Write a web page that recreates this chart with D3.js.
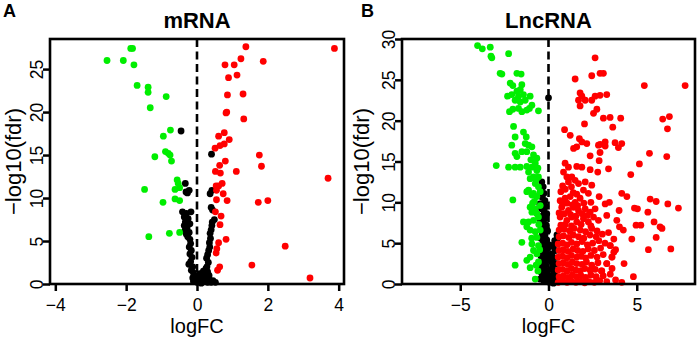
<!DOCTYPE html>
<html>
<head>
<meta charset="utf-8">
<script src="https://cdn.jsdelivr.net/npm/d3@7"></script>
<style>
  body { margin: 0; background: #fff; }
  text { font-family: "Liberation Sans", Arial, Helvetica, sans-serif; }
</style>
</head>
<body>
<svg id="chart"></svg>
<script>
const width = 699;
const height = 339;

// ---- panel A : mRNA ----
const mrnaXTicks = [-4, -2, 0, 2, 4];
const mrnaYTicks = [0, 5, 10, 15, 20, 25];

const mrnaDown = [
  [-1.87, 27.4], [-1.82, 27.4], [-2.54, 26.0], [-2.08, 26.0], [-1.78, 25.5],
  [-1.69, 23.1], [-1.38, 22.9], [-1.38, 22.3], [-0.87, 21.8], [-1.32, 20.5],
  [-0.75, 17.9], [-0.95, 17.2], [-0.89, 15.4], [-0.81, 15.2], [-0.76, 15.0],
  [-1.19, 14.8], [-0.72, 14.3], [-0.56, 12.1], [-0.53, 11.7], [-0.62, 11.0],
  [-0.49, 11.2], [-1.48, 11.0], [-0.62, 9.9], [-0.49, 9.7], [-0.96, 9.5],
  [-0.78, 5.9], [-0.49, 6.0], [-1.36, 5.5]
];

const mrnaUp = [
  [1.38, 27.6], [3.88, 27.4], [1.24, 26.2], [1.87, 25.9], [0.79, 25.5], [1.05, 25.5],
  [0.89, 24.0], [1.13, 24.3], [0.86, 22.0], [1.30, 22.1], [0.82, 19.9], [0.84, 20.0],
  [1.32, 19.2], [0.61, 17.2], [0.77, 17.6], [0.91, 16.8], [0.77, 16.3], [0.51, 15.8],
  [0.65, 16.1], [1.76, 15.0], [1.82, 13.7], [0.80, 14.3], [0.64, 13.8], [0.52, 13.1],
  [0.66, 12.9], [1.11, 13.1], [3.70, 12.3], [0.71, 11.7], [0.54, 11.4], [0.61, 11.4],
  [0.55, 10.9], [0.74, 10.5], [0.55, 9.8], [0.85, 9.7], [1.73, 9.5], [2.00, 9.7],
  [0.52, 8.4], [0.68, 7.9], [0.65, 6.9], [0.82, 5.2], [0.61, 4.8], [0.56, 4.1],
  [2.49, 4.4], [0.54, 3.6], [1.55, 2.2], [0.64, 2.0], [0.58, 1.6], [3.19, 0.7]
];

const mrnaNot = [
  [-0.45, 17.8], [0.41, 15.1], [-0.33, 11.7], [-0.31, 10.7], [-0.27, 10.6], [-0.22, 10.9],
  [0.37, 10.5], [0.42, 10.9], [0.44, 8.6], [0.49, 7.5], [0.40, 8.9],
  [-0.41, 8.4], [-0.17, 8.4], [-0.30, 8.2], [-0.36, 7.8], [-0.25, 7.6], [-0.33, 7.2],
  [-0.20, 7.0], [-0.36, 6.8], [-0.28, 6.5], [-0.34, 6.2], [-0.22, 6.0], [-0.30, 5.8],
  [-0.26, 5.5], [-0.20, 5.2], [-0.18, 4.7], [-0.22, 4.3], [-0.16, 3.9], [-0.20, 3.5],
  [-0.14, 3.1], [-0.18, 2.6], [-0.23, 2.3], [-0.12, 2.0], [-0.16, 1.6], [-0.10, 1.3],
  [-0.08, 1.0], [-0.12, 0.7], [-0.05, 0.5], [-0.10, 0.3], [0.00, 0.2], [0.05, 0.6],
  [0.10, 0.4], [0.15, 0.9], [0.20, 0.3], [0.25, 0.6], [0.30, 0.2], [0.35, 0.5],
  [0.40, 0.2], [0.45, 0.4], [0.52, 0.2], [0.08, 1.2], [0.18, 1.5], [0.12, 0.1],
  [-0.02, 0.9], [0.30, 1.4], [0.28, 2.0], [0.32, 2.5], [0.27, 3.0], [0.30, 3.4],
  [0.33, 3.9], [0.36, 4.3], [0.35, 4.8], [0.38, 5.3], [0.37, 5.9], [0.40, 6.3],
  [0.42, 6.8], [0.43, 7.2], [0.25, 1.8], [0.22, 1.2], [0.34, 1.0]
];

// ---- panel B : LncRNA ----
const lncXTicks = [-5, 0, 5];
const lncYTicks = [0, 5, 10, 15, 20, 25, 30];

const lncDown = [
  [-4.02, 29.2], [-3.75, 28.8], [-3.30, 29.0], [-3.26, 27.9], [-3.21, 27.7], [-2.26, 28.2],
  [-2.74, 25.8], [-2.64, 25.7], [-1.79, 25.8], [-1.55, 25.7], [-2.17, 24.6], [-2.02, 24.3],
  [-1.51, 24.4], [-1.60, 23.8], [-2.32, 23.0], [-2.08, 23.2], [-1.79, 23.6], [-1.70, 23.0],
  [-1.42, 23.2], [-1.89, 22.5], [-1.60, 22.3], [-1.32, 22.5], [-1.04, 23.0], [-0.94, 21.9],
  [-2.21, 21.1], [-2.02, 21.4], [-1.70, 21.5], [-1.51, 21.1], [-1.23, 21.3], [-1.08, 21.5],
  [-0.57, 21.2], [-1.98, 19.3], [-1.42, 18.6], [-1.26, 18.0], [-1.89, 18.0], [-2.08, 17.0],
  [-1.32, 17.2], [-1.13, 17.0], [-1.79, 15.6], [-1.89, 16.0], [-1.51, 16.2], [-1.23, 16.2],
  [-0.94, 16.8], [-0.85, 15.8], [-0.66, 15.4], [-0.75, 14.8], [-0.94, 14.3], [-0.66, 13.9],
  [-0.85, 13.1], [-0.57, 13.1], [-2.96, 14.5], [-2.26, 14.3], [-1.89, 14.3], [-1.60, 14.3],
  [-1.23, 14.4], [-1.13, 13.7], [-1.04, 12.9], [-0.75, 12.3], [-0.57, 11.9], [-1.13, 11.5],
  [-0.85, 11.1], [-1.23, 11.3], [-0.94, 10.9], [-0.66, 10.7], [-0.47, 11.3], [-2.02, 10.3],
  [-1.04, 9.4], [-0.75, 9.2], [-0.47, 9.6], [-0.94, 8.8], [-0.66, 8.6], [-0.57, 8.2],
  [-0.85, 7.8], [-1.13, 7.6], [-1.42, 7.6], [-1.23, 7.0], [-1.04, 6.6], [-0.75, 6.4],
  [-0.47, 6.6], [-0.66, 5.7], [-1.51, 5.1], [-0.94, 4.9], [-0.57, 4.7], [-0.85, 4.1],
  [-1.04, 3.3], [-0.66, 3.7], [-1.23, 2.9], [-1.89, 2.3], [-1.04, 2.0], [-0.57, 2.7],
  [-0.75, 0.6], [-0.80, 10.1], [-0.70, 12.8], [-1.00, 15.2], [-0.60, 14.2], [-0.90, 9.9],
  [-0.55, 7.3], [-0.95, 5.6], [-0.50, 4.2], [-0.70, 2.3], [-0.60, 1.6]
];

const lncUp = [
  [2.64, 27.7], [2.45, 25.5], [2.92, 25.8], [3.11, 25.8], [1.51, 25.1], [5.43, 24.3], [7.74, 24.3],
  [1.79, 23.4], [1.89, 23.0], [1.70, 22.5], [2.08, 22.5], [2.45, 22.5], [2.64, 23.0], [2.92, 23.1],
  [3.30, 23.2], [1.79, 21.8], [2.55, 20.9], [2.74, 21.4], [3.11, 20.3], [3.49, 20.4], [4.09, 20.3],
  [2.04, 19.6], [3.64, 19.2], [6.47, 20.2], [6.85, 20.5], [6.74, 19.0], [0.91, 18.9], [1.23, 18.2],
  [1.75, 17.8], [1.89, 17.4], [2.17, 17.2], [1.42, 16.6], [1.60, 16.8], [2.83, 17.0], [3.21, 16.9],
  [3.77, 17.3], [4.15, 17.2], [3.96, 16.7], [2.36, 15.7], [2.92, 16.1], [2.87, 15.1], [5.72, 16.0],
  [6.70, 15.6], [0.94, 14.8], [1.13, 14.3], [1.60, 14.4], [1.89, 14.3], [2.36, 14.0], [2.79, 13.7],
  [3.40, 14.1], [5.15, 14.7], [4.66, 13.4], [0.85, 13.7], [1.04, 13.1], [1.32, 13.1], [1.51, 12.7],
  [1.70, 12.3], [1.13, 12.5], [2.08, 12.5], [2.45, 12.1], [1.98, 11.5], [2.26, 11.1], [4.15, 11.1],
  [4.44, 10.7], [2.87, 10.7], [3.21, 9.8], [3.45, 10.0], [4.00, 9.0], [0.66, 10.2], [0.94, 10.5],
  [1.23, 10.7], [1.51, 10.0], [1.79, 10.5], [0.75, 9.4], [1.13, 9.0], [1.42, 9.4], [1.70, 9.0],
  [2.08, 9.2], [2.36, 8.8], [2.64, 9.2], [4.87, 9.3], [5.04, 9.2], [5.76, 10.4], [6.10, 10.1],
  [6.76, 9.8], [7.36, 9.3], [5.63, 8.8], [0.66, 8.2], [1.04, 7.8], [1.32, 8.2], [1.60, 7.6],
  [1.98, 8.0], [2.26, 7.6], [2.55, 8.2], [2.83, 7.8], [3.30, 8.4], [3.87, 7.8], [5.98, 7.6],
  [6.32, 7.0], [6.43, 6.8], [4.96, 7.2], [5.23, 7.2], [4.02, 7.0], [4.24, 6.6], [4.72, 5.5],
  [6.10, 5.7], [5.66, 4.2], [6.93, 4.3], [4.28, 2.5], [4.81, 0.9], [4.15, 0.2], [3.02, 1.6],
  [3.30, 2.5], [3.59, 3.3], [3.49, 4.7], [3.80, 4.2], [3.70, 3.9], [2.93, 17.1], [3.21, 17.4],
  [0.55, 0.2], [0.80, 0.3], [1.05, 0.2], [1.30, 0.35], [1.55, 0.2], [1.80, 0.3], [2.05, 0.15],
  [2.30, 0.3], [2.60, 0.2], [2.90, 0.4], [3.30, 0.3], [3.80, 0.5],
  [0.60, 0.9], [0.85, 1.0], [1.10, 0.8], [1.35, 1.1], [1.60, 0.9], [1.85, 1.0], [2.10, 0.8],
  [2.40, 1.1], [2.70, 0.9], [3.10, 1.0], [3.50, 1.2],
  [0.55, 1.7], [0.80, 1.8], [1.05, 1.6], [1.30, 1.9], [1.55, 1.7], [1.80, 1.6], [2.05, 1.9],
  [2.35, 1.7], [2.65, 1.8], [3.00, 1.6], [3.60, 1.9],
  [0.60, 2.5], [0.85, 2.6], [1.10, 2.4], [1.35, 2.7], [1.60, 2.5], [1.90, 2.4], [2.15, 2.7],
  [2.45, 2.3], [2.80, 2.6], [3.30, 2.5],
  [0.55, 3.3], [0.80, 3.4], [1.05, 3.2], [1.30, 3.5], [1.60, 3.3], [1.85, 3.4], [2.10, 3.2],
  [2.40, 3.5], [2.75, 3.3], [3.10, 3.6], [3.60, 3.3],
  [0.60, 4.1], [0.85, 4.2], [1.10, 4.0], [1.40, 4.3], [1.65, 4.1], [1.95, 4.0], [2.25, 4.3],
  [2.60, 4.1], [2.95, 4.4], [3.50, 4.7],
  [0.55, 4.9], [0.80, 5.0], [1.05, 4.8], [1.30, 5.1], [1.60, 4.9], [1.90, 5.2], [2.20, 4.8],
  [2.50, 5.0], [2.85, 5.3], [3.20, 5.0], [3.70, 5.5],
  [0.60, 5.8], [0.85, 5.9], [1.15, 5.7], [1.40, 6.0], [1.70, 5.8], [2.00, 5.6], [2.35, 6.0],
  [2.70, 5.8], [3.05, 6.1],
  [0.60, 6.6], [0.90, 6.7], [1.20, 6.5], [1.45, 6.8], [1.80, 6.6], [2.10, 6.4], [2.45, 6.8],
  [2.75, 6.5], [3.40, 6.3],
  [0.70, 7.2], [0.95, 7.3], [1.30, 7.1], [1.85, 7.3], [2.40, 7.1],
  [0.60, 8.7], [0.90, 8.6], [1.25, 8.5], [1.55, 8.3], [1.90, 8.6], [2.20, 8.4],
  [0.80, 9.8], [1.05, 9.9], [1.35, 9.7], [1.65, 9.6], [2.00, 9.9], [2.40, 10.0],
  [0.70, 11.3], [0.95, 11.6], [1.40, 11.2], [1.60, 11.0], [0.80, 12.0], [1.30, 11.9]
];

const lncNot = [
  [0.00, 22.8], [-0.38, 12.5], [-0.30, 11.9], [-0.25, 11.1], [-0.35, 10.6], [-0.20, 10.2],
  [-0.30, 9.8], [-0.15, 9.5], [-0.40, 9.2], [-0.25, 8.9], [-0.10, 8.6], [-0.35, 8.3],
  [-0.20, 8.0], [-0.45, 7.8], [-0.30, 7.5], [-0.12, 7.2], [-0.40, 7.0], [-0.25, 6.7],
  [-0.05, 6.5], [-0.35, 6.2], [-0.20, 5.9], [-0.45, 5.6], [-0.10, 5.4], [-0.30, 5.1],
  [-0.18, 4.8], [-0.40, 4.5], [-0.05, 4.3], [-0.28, 4.0], [-0.15, 3.7], [-0.42, 3.4],
  [-0.22, 3.1], [-0.08, 2.9], [-0.35, 2.6], [-0.18, 2.3], [-0.45, 2.0], [-0.28, 1.8],
  [-0.05, 1.6], [-0.38, 1.3], [-0.15, 1.1], [-0.30, 0.8], [-0.48, 0.6], [-0.10, 0.5],
  [-0.25, 0.3], [0.05, 0.2], [0.10, 0.9], [0.20, 0.4], [0.30, 1.2], [0.15, 1.8],
  [0.35, 0.7], [0.25, 2.3], [0.40, 1.6], [0.12, 2.8], [0.30, 3.2], [0.45, 2.5],
  [0.20, 3.7], [0.38, 4.1], [0.25, 4.6], [0.45, 5.0], [0.50, 5.6], [0.35, 5.3],
  [0.48, 6.0], [0.08, 3.5], [0.05, 4.8], [-0.50, 9.8], [-0.45, 11.3], [0.02, 1.0],
  [0.28, 0.1], [0.42, 0.3]
];

const colors = { down: "#00ee00", up: "#ff0000", not: "#000000" };

const panels = [
  {
    letter: "A", title: "mRNA",
    left: 50, right: 344, top: 39, bottom: 284, letterX: 3, yTitleX: 21,
    xDomain: [-4.15, 4.15], yDomain: [0, 28.5],
    xTicks: mrnaXTicks, yTicks: mrnaYTicks,
    not: mrnaNot, down: mrnaDown, up: mrnaUp
  },
  {
    letter: "B", title: "LncRNA",
    left: 402, right: 695, top: 39, bottom: 284, letterX: 361, yTitleX: 369,
    xDomain: [-8.3, 8.3], yDomain: [0, 30],
    xTicks: lncXTicks, yTicks: lncYTicks,
    not: lncNot, down: lncDown, up: lncUp
  }
];

const svg = d3.select("#chart")
  .attr("width", width)
  .attr("height", height)
  .attr("viewBox", [0, 0, width, height]);

panels.forEach(p => {
  const x = d3.scaleLinear().domain(p.xDomain).range([p.left, p.right]);
  const y = d3.scaleLinear().domain(p.yDomain).range([p.bottom, p.top]);
  const g = svg.append("g");

  // points: black first, then coloured on top
  [["not", p.not], ["down", p.down], ["up", p.up]].forEach(([key, pts]) => {
    g.append("g")
      .attr("fill", colors[key])
      .selectAll("circle")
      .data(pts)
      .join("circle")
      .attr("cx", d => x(d[0]))
      .attr("cy", d => y(d[1]))
      .attr("r", 3.4);
  });

  // dashed zero line
  g.append("line")
    .attr("x1", x(0)).attr("x2", x(0))
    .attr("y1", p.top).attr("y2", p.bottom)
    .attr("stroke", "#000")
    .attr("stroke-width", 2.6)
    .attr("stroke-dasharray", "8,4.5");

  // axes
  const xAxis = g.append("g")
    .attr("transform", `translate(0,${p.bottom})`)
    .call(d3.axisBottom(x).tickValues(p.xTicks).tickSize(7).tickPadding(8)
      .tickFormat(d => d < 0 ? "\u2212" + Math.abs(d) : d));
  const yAxis = g.append("g")
    .attr("transform", `translate(${p.left},0)`)
    .call(d3.axisLeft(y).tickValues(p.yTicks).tickSize(7));

  [xAxis, yAxis].forEach(a => {
    a.select(".domain").remove();
    a.selectAll(".tick line").attr("stroke", "#000").attr("stroke-width", 2.5);
    a.selectAll(".tick text")
      .attr("fill", "#000")
      .style("font-size", "17.5px")
      .style("font-family", '"Liberation Sans", Arial, sans-serif');
  });

  yAxis.selectAll(".tick text")
    .attr("transform", "rotate(-90)")
    .attr("x", 0)
    .attr("y", -7)
    .attr("dy", 0)
    .attr("text-anchor", "middle");

  // box
  g.append("rect")
    .attr("x", p.left).attr("y", p.top)
    .attr("width", p.right - p.left).attr("height", p.bottom - p.top)
    .attr("fill", "none")
    .attr("stroke", "#000")
    .attr("stroke-width", 2.6);

  // titles
  g.append("text")
    .attr("x", (p.left + p.right) / 2).attr("y", 28)
    .attr("text-anchor", "middle")
    .style("font-size", "22px").style("font-weight", "bold")
    .text(p.title);

  g.append("text")
    .attr("x", p.letterX).attr("y", 17)
    .style("font-size", "18px").style("font-weight", "bold")
    .text(p.letter);

  g.append("text")
    .attr("x", (p.left + p.right) / 2).attr("y", 333)
    .attr("text-anchor", "middle")
    .style("font-size", "20px")
    .text("logFC");

  g.append("text")
    .attr("transform", `translate(${p.yTitleX},${(p.top + p.bottom) / 2}) rotate(-90)`)
    .attr("text-anchor", "middle")
    .style("font-size", "22px")
    .text("\u2212log10(fdr)");
});
</script>
</body>
</html>
